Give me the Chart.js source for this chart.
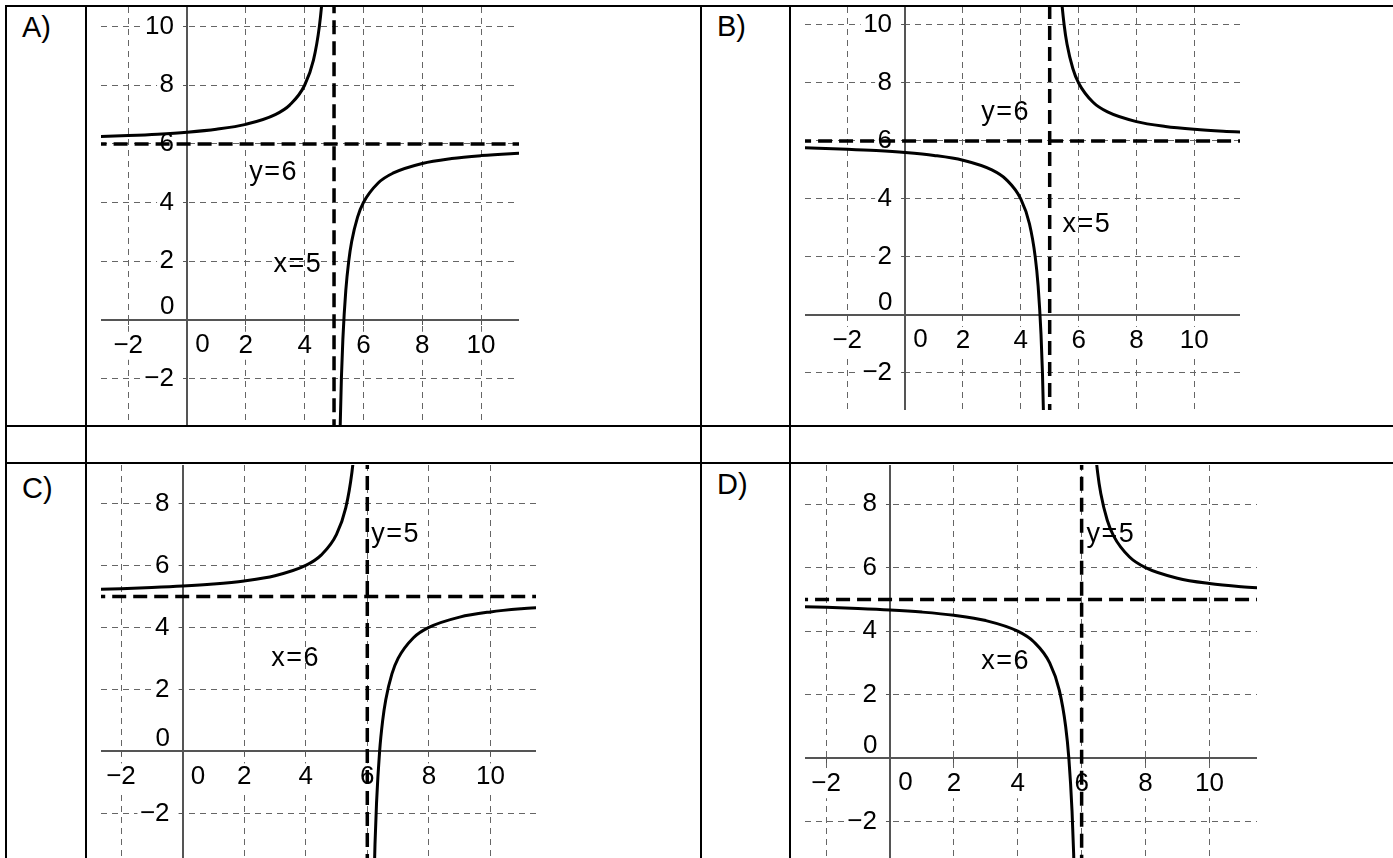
<!DOCTYPE html>
<html>
<head>
<meta charset="utf-8">
<script src="https://cdn.jsdelivr.net/npm/chart.js@4.4.0/dist/chart.umd.min.js"></script>
<style>
html,body{margin:0;padding:0;background:#fff;}
#page{position:relative;width:1393px;height:858px;overflow:hidden;font-family:"Liberation Sans",Arial,sans-serif;}
.hl{position:absolute;height:2px;background:#000;}
.vl{position:absolute;width:2px;background:#000;}
.tag{position:absolute;font-size:29px;line-height:29px;color:#000;white-space:nowrap;}
canvas{position:absolute;}
</style>
</head>
<body>
<div id="page">
  <div class="hl" style="left:5px;top:5px;width:1388px;"></div>
  <div class="hl" style="left:5px;top:425px;width:1388px;"></div>
  <div class="hl" style="left:5px;top:462px;width:1388px;"></div>
  <div class="vl" style="left:5px;top:5px;height:853px;"></div>
  <div class="vl" style="left:85px;top:5px;height:853px;"></div>
  <div class="vl" style="left:700px;top:5px;height:853px;"></div>
  <div class="vl" style="left:789px;top:5px;height:853px;"></div>

  <div class="tag" style="left:22px;top:13px;">A)</div>
  <div class="tag" style="left:717px;top:12px;">B)</div>
  <div class="tag" style="left:22px;top:474px;">C)</div>
  <div class="tag" style="left:717px;top:470px;">D)</div>

  <canvas id="cA" width="418" height="418" style="left:101px;top:7px;"></canvas>
  <canvas id="cB" width="435" height="403" style="left:805px;top:7px;"></canvas>
  <canvas id="cC" width="435" height="393" style="left:101px;top:465px;"></canvas>
  <canvas id="cD" width="452" height="393" style="left:805px;top:465px;"></canvas>
</div>
<script>
// ---------- data ----------
const panelNames = ['A', 'B', 'C', 'D'];
const xTicks = [-2, 0, 2, 4, 6, 8, 10];
const yTicksAB = [-2, 0, 2, 4, 6, 8, 10];
const yTicksCD = [-2, 0, 2, 4, 6, 8];

// vertical / horizontal asymptotes (panels A, B, C, D)
const vAsym = [5, 5, 6, 6];
const hAsym = [6, 6, 5, 5];

// x values of curve branches
const xLeftAB  = [-4, -3, -2, -1, 0, 1, 2, 3, 3.5, 4, 4.3, 4.5, 4.6, 4.7, 4.75, 4.8, 4.85];
const xRightAB = [5.15, 5.2, 5.25, 5.3, 5.4, 5.5, 5.6, 5.8, 6, 6.5, 7, 8, 9, 10, 11, 12];
const xLeftCD  = [-4, -3, -2, -1, 0, 1, 2, 3, 4, 4.5, 5, 5.3, 5.5, 5.6, 5.7, 5.75, 5.8, 5.85];
const xRightCD = [6.15, 6.2, 6.25, 6.3, 6.4, 6.5, 6.6, 6.8, 7, 7.5, 8, 9, 10, 11, 12];

// y values of the branches
const aLeftY  = [6.222, 6.25, 6.286, 6.333, 6.4, 6.5, 6.667, 7, 7.333, 8, 8.857, 10, 11, 12.667, 14, 16, 19.333];
const aRightY = [-7.333, -4, -2, -0.667, 1, 2, 2.667, 3.5, 4, 4.667, 5, 5.333, 5.5, 5.6, 5.667, 5.714];
const bLeftY  = [5.778, 5.75, 5.714, 5.667, 5.6, 5.5, 5.333, 5, 4.667, 4, 3.143, 2, 1, -0.667, -2, -4, -7.333];
const bRightY = [19.333, 16, 14, 12.667, 11, 10, 9.333, 8.5, 8, 7.333, 7, 6.667, 6.5, 6.4, 6.333, 6.286];
const cLeftY  = [5.2, 5.222, 5.25, 5.286, 5.333, 5.4, 5.5, 5.667, 6, 6.333, 7, 7.857, 9, 10, 11.667, 13, 15, 18.333];
const cRightY = [-8.333, -5, -3, -1.667, 0, 1, 1.667, 2.5, 3, 3.667, 4, 4.333, 4.5, 4.6, 4.667];
const dLeftY  = [4.8, 4.778, 4.75, 4.714, 4.667, 4.6, 4.5, 4.333, 4, 3.667, 3, 2.143, 1, 0, -1.667, -3, -5, -8.333];
const dRightY = [18.333, 15, 13, 11.667, 10, 9, 8.333, 7.5, 7, 6.333, 6, 5.667, 5.5, 5.4, 5.333];

// asymptote captions
const hLabels = ['y=6', 'y=6', 'y=5', 'y=5'];
const vLabels = ['x=5', 'x=5', 'x=6', 'x=6'];

// ---------- layout (view windows and caption anchors, data units) ----------
const views = {
  A: {x: [-2.925, 11.29], y: [-3.59, 10.67]},
  B: {x: [-3.46, 11.58], y: [-3.28, 10.62]},
  C: {x: [-2.65, 11.48], y: [-3.44, 9.24]},
  D: {x: [-2.66, 11.49], y: [-3.14, 9.23]}
};
const hLabelAt = {A: [2.12, 5.01], B: [2.63, 6.98], C: [6.13, 6.98], D: [6.15, 7.03]};
const vLabelAt = {A: [2.94, 1.87], B: [5.44, 3.10], C: [2.88, 3.01], D: [2.86, 3.03]};

// ---------- styles ----------
const FONT = '"Liberation Sans", Arial, sans-serif';
const TICK_SIZE = 26;
const CAPTION_SIZE = 27;
const CAPTION_SPACING = '1.5px';
const GRID_COLOR = '#666';
const AXIS_COLOR = '#555';
const GRID_DASH = [6, 5];
const ASYM_DASH = [14, 7];
const TICK_LEN = 4, X_PAD = 6, Y_GAP = 12.5;

function pts(xs, ys) { return xs.map((x, i) => ({x: x, y: ys[i]})); }
function fmt(v) { return v < 0 ? '\u2212' + Math.abs(v) : String(v); }

const overlay = {
  id: 'overlay',
  beforeDatasetsDraw(chart, args, opts) {
    const {ctx} = chart;
    const xs = chart.scales.x, ys = chart.scales.y;
    const ox = xs.getPixelForValue(0), oy = ys.getPixelForValue(0);
    ctx.save();
    ctx.font = TICK_SIZE + 'px ' + FONT;
    // white boxes behind the tick labels (labels themselves are drawn by the scales)
    ctx.fillStyle = '#ffffff';
    for (const t of xs.ticks) {
      const w = ctx.measureText(fmt(t.value)).width;
      const cx = xs.getPixelForValue(t.value);
      ctx.fillRect(cx - w / 2 - 2, oy + 12, w + 4, 28);
    }
    for (const t of ys.ticks) {
      const w = ctx.measureText(fmt(t.value)).width;
      const cy = ys.getPixelForValue(t.value);
      ctx.fillRect(ox - Y_GAP - w - 3, cy - 13, w + 3 + Y_GAP - 4, 26);
    }
    ctx.fillStyle = '#000';
    ctx.textBaseline = 'middle';
    ctx.textAlign = 'center';
    ctx.fillText('0', ox + 15.5, oy + 25);
    ctx.textAlign = 'right';
    ctx.fillText('0', ox - Y_GAP, oy - 12.5);
    ctx.font = CAPTION_SIZE + 'px ' + FONT;
    if ('letterSpacing' in ctx) ctx.letterSpacing = CAPTION_SPACING;
    ctx.textAlign = 'left';
    for (const c of opts.captions) {
      ctx.fillText(c.text, xs.getPixelForValue(c.at[0]), ys.getPixelForValue(c.at[1]));
    }
    ctx.restore();
  }
};

const zeroPad = s => { s.paddingLeft = 0; s.paddingRight = 0; s.paddingTop = 0; s.paddingBottom = 0; };

function buildPanel(i, leftX, leftY, rightX, rightY, yTicks) {
  const name = panelNames[i];
  const v = views[name];
  const curveStyle = {borderColor: '#000', borderWidth: 3, pointRadius: 0, showLine: true,
                      cubicInterpolationMode: 'monotone', fill: false};
  const asymStyle = {borderColor: '#000', borderWidth: 3.5, pointRadius: 0, showLine: true,
                     borderDash: ASYM_DASH, fill: false};
  const datasets = [
    Object.assign({data: pts([vAsym[i], vAsym[i]], [v.y[0] - 1, v.y[1] + 1])}, asymStyle),
    Object.assign({data: pts([v.x[0] - 1, v.x[1] + 1], [hAsym[i], hAsym[i]])}, asymStyle),
    Object.assign({data: pts(leftX, leftY)}, curveStyle),
    Object.assign({data: pts(rightX, rightY)}, curveStyle)
  ];
  const tickFont = {family: FONT, size: TICK_SIZE};
  const gridOpts = {color: GRID_COLOR, lineWidth: 1, drawTicks: true, tickLength: TICK_LEN,
                    tickColor: AXIS_COLOR, tickWidth: 1, borderDash: GRID_DASH};
  const borderOpts = {display: true, color: AXIS_COLOR, width: 2, dash: GRID_DASH};
  new Chart(document.getElementById('c' + name), {
    type: 'scatter',
    data: {datasets: datasets},
    options: {
      responsive: false,
      animation: false,
      devicePixelRatio: 1,
      layout: {padding: 0},
      plugins: {
        legend: {display: false},
        tooltip: {enabled: false},
        overlay: {captions: [
          {text: hLabels[i], at: hLabelAt[name]},
          {text: vLabels[i], at: vLabelAt[name]}
        ]}
      },
      scales: {
        x: {
          type: 'linear', min: v.x[0], max: v.x[1], position: {y: 0},
          // the "0" tick sits on the y axis line; its label is drawn by the overlay plugin
          afterBuildTicks: s => { s.ticks = xTicks.filter(t => t !== 0).map(t => ({value: t})); },
          afterFit: zeroPad,
          grid: gridOpts,
          border: borderOpts,
          ticks: {
            z: 1, autoSkip: false, maxRotation: 0, minRotation: 0, padding: X_PAD, color: '#000', font: tickFont,
            callback: val => fmt(val)
          }
        },
        y: {
          type: 'linear', min: v.y[0], max: v.y[1], position: {x: 0},
          afterBuildTicks: s => { s.ticks = yTicks.filter(t => t !== 0).map(t => ({value: t})); },
          afterFit: zeroPad,
          grid: gridOpts,
          border: borderOpts,
          ticks: {
            z: 1, autoSkip: false, padding: 0, color: '#000', font: tickFont,
            callback: val => fmt(val) + '\u2002'
          }
        }
      }
    },
    plugins: [overlay]
  });
}

buildPanel(0, xLeftAB, aLeftY, xRightAB, aRightY, yTicksAB);
buildPanel(1, xLeftAB, bLeftY, xRightAB, bRightY, yTicksAB);
buildPanel(2, xLeftCD, cLeftY, xRightCD, cRightY, yTicksCD);
buildPanel(3, xLeftCD, dLeftY, xRightCD, dRightY, yTicksCD);
</script>
</body>
</html>
